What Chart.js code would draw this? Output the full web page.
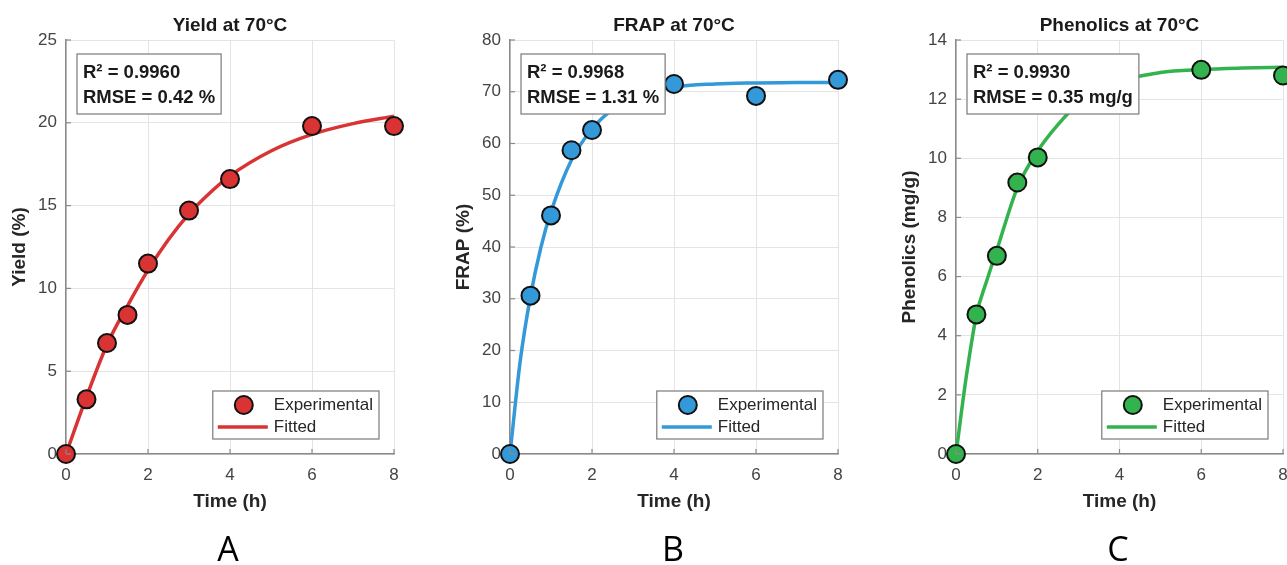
<!DOCTYPE html>
<html><head><meta charset="utf-8">
<script src="https://cdn.jsdelivr.net/npm/chart.js@4.4.0/dist/chart.umd.min.js"></script>
<style>
html,body{margin:0;padding:0;width:1287px;height:565px;overflow:hidden;background:#fff;}
canvas{position:absolute;top:0;}
.letter{position:absolute;top:528px;width:100px;margin-left:-50px;text-align:center;font-family:"Open Sans";font-size:34px;line-height:40px;color:#000;}
</style></head><body>
<canvas id="cA" width="440" height="565" style="left:0px"></canvas>
<canvas id="cB" width="444" height="565" style="left:444px"></canvas>
<canvas id="cC" width="420" height="565" style="left:890px"></canvas>
<div class="letter" style="left:228px">A</div>
<div class="letter" style="left:673px">B</div>
<div class="letter" style="left:1118px">C</div>
<script>
// ---- data ----
const xTicks = [0, 2, 4, 6, 8];

const timeA = [0, 0.5, 1, 1.5, 2, 3, 4, 6, 8];
const yieldExp = [0, 3.3, 6.7, 8.4, 11.5, 14.7, 16.6, 19.8, 19.8];
const fitTimeA = [0, 0.5, 1, 1.5, 2, 2.5, 3, 3.5, 4, 5, 6, 7, 8];
const yieldFit = [0, 3.45, 6.6, 8.95, 11.1, 12.95, 14.5, 15.75, 16.8, 18.3, 19.3, 19.95, 20.4];

const timeB = [0, 0.5, 1, 1.5, 2, 4, 6, 8];
const frapExp = [0, 30.6, 46.1, 58.7, 62.6, 71.5, 69.2, 72.3];
const fitTimeB = [0, 0.25, 0.5, 0.75, 1, 1.5, 2, 2.5, 3, 4, 5, 6, 7, 8];
const frapFit = [0, 18, 30.5, 39.8, 46.8, 56.8, 62.8, 66.6, 68.9, 70.9, 71.5, 71.7, 71.8, 71.8];

const timeC = [0, 0.5, 1, 1.5, 2, 6, 8];
const phenExp = [0, 4.72, 6.7, 9.18, 10.03, 12.99, 12.8];
const fitTimeC = [0, 0.25, 0.5, 0.75, 1, 1.5, 2, 2.5, 3, 4, 5, 6, 7, 8];
const phenFit = [0, 2.6, 4.7, 5.85, 6.9, 9.0, 10.25, 11.15, 11.85, 12.6, 12.9, 13.0, 13.05, 13.08];

const statsA = ['R² = 0.9960', 'RMSE = 0.42 %'];
const statsB = ['R² = 0.9968', 'RMSE = 1.31 %'];
const statsC = ['R² = 0.9930', 'RMSE = 0.35 mg/g'];
const legendLabels = ['Experimental', 'Fitted'];

// ---- helpers ----
const FONT = '"Liberation Sans", Arial, sans-serif';
function pts(xs, ys) { return xs.map((x, i) => ({x: x, y: ys[i]})); }

const innerTicks = {
  id: 'innerTicks',
  afterDraw(chart) {
    const ctx = chart.ctx, xs = chart.scales.x, ys = chart.scales.y, a = chart.chartArea;
    ctx.save();
    ctx.strokeStyle = '#8a8a8a'; ctx.lineWidth = 1.2;
    xs.ticks.forEach(t => { const p = xs.getPixelForValue(t.value);
      ctx.beginPath(); ctx.moveTo(p, a.bottom); ctx.lineTo(p, a.bottom - 5); ctx.stroke(); });
    ys.ticks.forEach(t => { const p = ys.getPixelForValue(t.value);
      ctx.beginPath(); ctx.moveTo(a.left, p); ctx.lineTo(a.left + 5, p); ctx.stroke(); });
    ctx.restore();
  }
};

const boxes = {
  id: 'boxes',
  afterDatasetsDraw(chart, args, opts) {
    const ctx = chart.ctx, a = chart.chartArea;
    ctx.save();
    // stats box
    ctx.font = 'bold 18.5px ' + FONT;
    const w = Math.max(...opts.stats.map(s => ctx.measureText(s).width)) + 12;
    const bx = a.left + 11, by = a.top + 14, bh = 60;
    ctx.fillStyle = '#fff'; ctx.fillRect(bx, by, w, bh);
    ctx.strokeStyle = '#7a7a7a'; ctx.lineWidth = 1.2; ctx.strokeRect(bx, by, w, bh);
    ctx.fillStyle = '#1a1a1a'; ctx.textBaseline = 'middle'; ctx.textAlign = 'left';
    ctx.fillText(opts.stats[0], bx + 6, by + 19);
    ctx.fillText(opts.stats[1], bx + 6, by + 44);
    // legend box
    ctx.font = '17px ' + FONT;
    const tw = ctx.measureText(opts.labels[0]).width;
    const lw = 61 + tw + 6, lh = 48;
    const lx = a.right - 15 - lw, ly = a.bottom - 15 - lh;
    ctx.fillStyle = '#fff'; ctx.fillRect(lx, ly, lw, lh);
    ctx.strokeStyle = '#7a7a7a'; ctx.strokeRect(lx, ly, lw, lh);
    ctx.beginPath(); ctx.arc(lx + 31, ly + 14, 9, 0, Math.PI * 2);
    ctx.fillStyle = opts.color; ctx.fill();
    ctx.lineWidth = 2; ctx.strokeStyle = '#111'; ctx.stroke();
    ctx.beginPath(); ctx.moveTo(lx + 5, ly + 36); ctx.lineTo(lx + 55, ly + 36);
    ctx.lineWidth = 3.5; ctx.strokeStyle = opts.color; ctx.stroke();
    ctx.fillStyle = '#262626';
    ctx.fillText(opts.labels[0], lx + 61, ly + 14);
    ctx.fillText(opts.labels[1], lx + 61, ly + 36);
    ctx.restore();
  }
};

function makeChart(id, p) {
  new Chart(document.getElementById(id), {
    type: 'scatter',
    data: {
      datasets: [
        { label: legendLabels[0], data: pts(p.tx, p.ty), backgroundColor: p.color, borderColor: '#111',
          borderWidth: 2, pointRadius: 9, pointHoverRadius: 9, clip: false },
        { label: legendLabels[1], data: pts(p.fx, p.fy), showLine: true, borderColor: p.color,
          borderWidth: 3.5, pointRadius: 0, cubicInterpolationMode: 'monotone', fill: false }
      ]
    },
    options: {
      responsive: false, animation: false, events: [],
      layout: { padding: { left: 0, right: p.padRight, top: 0, bottom: 51.6 } },
      plugins: {
        legend: { display: false }, tooltip: { enabled: false },
        title: { display: true, text: p.title, fullSize: false, color: '#1a1a1a',
          font: { family: FONT, size: 19, weight: 'bold', lineHeight: 1.2 },
          padding: { top: 14, bottom: 3.2 } },
        boxes: { stats: p.stats, labels: legendLabels, color: p.color }
      },
      scales: {
        x: {
          type: 'linear', min: 0, max: 8,
          afterBuildTicks: s => { s.ticks = xTicks.map(v => ({value: v})); },
          afterFit: s => { s.height = 59.4; },
          grid: { color: '#e4e4e4', lineWidth: 1, drawTicks: false },
          border: { display: true, color: '#8a8a8a', width: 1.5 },
          ticks: { padding: 11, color: '#444', font: { family: FONT, size: 17 } },
          title: { display: true, text: 'Time (h)', color: '#262626', padding: { top: 0, bottom: 0 },
            font: { family: FONT, size: 19, weight: 'bold', lineHeight: 1.2 } }
        },
        y: {
          min: 0, max: p.yMax,
          afterBuildTicks: s => { s.ticks = p.yTicks.map(v => ({value: v})); },
          afterFit: s => { s.width = 66; },
          grid: { color: '#e4e4e4', lineWidth: 1, drawTicks: false },
          border: { display: true, color: '#8a8a8a', width: 1.5 },
          ticks: { padding: 9, color: '#444', font: { family: FONT, size: 17 } },
          title: { display: true, text: p.yTitle, color: '#262626', padding: { top: 8, bottom: 0 },
            font: { family: FONT, size: 19, weight: 'bold', lineHeight: 1.2 } }
        }
      }
    },
    plugins: [innerTicks, boxes]
  });
}

makeChart('cA', { title: 'Yield at 70°C', yTitle: 'Yield (%)', yMax: 25, yTicks: [0, 5, 10, 15, 20, 25],
  tx: timeA, ty: yieldExp, fx: fitTimeA, fy: yieldFit, color: '#d93333', stats: statsA, padRight: 46 });
makeChart('cB', { title: 'FRAP at 70°C', yTitle: 'FRAP (%)', yMax: 80, yTicks: [0, 10, 20, 30, 40, 50, 60, 70, 80],
  tx: timeB, ty: frapExp, fx: fitTimeB, fy: frapFit, color: '#3399d9', stats: statsB, padRight: 50 });
makeChart('cC', { title: 'Phenolics at 70°C', yTitle: 'Phenolics (mg/g)', yMax: 14, yTicks: [0, 2, 4, 6, 8, 10, 12, 14],
  tx: timeC, ty: phenExp, fx: fitTimeC, fy: phenFit, color: '#33b34d', stats: statsC, padRight: 27 });
</script>
</body></html>
